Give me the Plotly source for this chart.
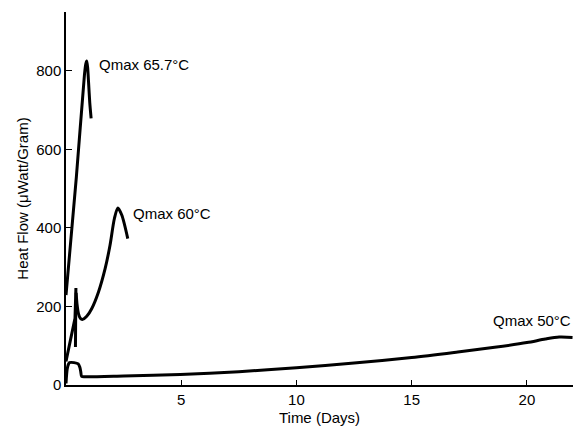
import plotly.graph_objects as go

# 65.7 C curve
t65 = [0.0, 0.45, 0.8, 0.86, 0.9, 0.94, 0.98, 1.03, 1.09]
q65 = [229, 530, 790, 818, 825, 808, 770, 720, 679]

# 60 C curve: initial rise and spike
t60a = [0.0, 0.2, 0.39, 0.43, 0.42, 0.41]
q60a = [60, 115, 170, 247, 160, 97]
# 60 C curve: main hump
t60b = [0.44, 0.48, 0.54, 0.62, 0.71, 0.9, 1.12, 1.41, 1.70, 1.91, 2.10, 2.25, 2.42, 2.68]
q60b = [235, 205, 182, 170, 167, 175, 195, 237, 297, 356, 424, 451, 433, 373]

# 50 C curve
t50 = [0.0, 0.05, 0.1, 0.15, 0.35, 0.53, 0.6, 0.64, 0.68, 0.83, 2.5, 4.96, 7.5, 10.0, 12.5,
       15.0, 17.0, 18.6, 20.0, 20.8, 21.4, 21.98]
q50 = [4, 40, 52, 57, 57, 54, 45, 34, 22, 21, 23, 27, 34, 44, 56, 70, 84, 96, 108, 117, 122, 121]

labels = ["Qmax 65.7°C", "Qmax 60°C", "Qmax 50°C"]
label_x = [1.35, 2.83, 22.0]
label_y = [817, 438, 165]

x_ticks = [5, 10, 15, 20]
y_ticks = [0, 200, 400, 600, 800]

font = dict(family="Liberation Sans, Arial, sans-serif", size=15, color="black")
line = dict(color="black", width=3)

fig = go.Figure()
fig.add_trace(go.Scatter(x=t65, y=q65, mode="lines", line=dict(**line, shape="spline", smoothing=0.5)))
fig.add_trace(go.Scatter(x=t60a, y=q60a, mode="lines", line=line))
fig.add_trace(go.Scatter(x=t60b, y=q60b, mode="lines", line=dict(**line, shape="spline", smoothing=0.8)))
fig.add_trace(go.Scatter(x=t50, y=q50, mode="lines", line=dict(**line, shape="spline", smoothing=0.8)))

for txt, x, y in zip(labels, label_x, label_y):
    fig.add_annotation(x=x, y=y, text=txt, showarrow=False,
                       xanchor="right" if x > 20 else "left", yanchor="middle",
                       font=font)

fig.update_layout(
    width=574, height=428,
    margin=dict(l=66, r=1, t=12, b=43),
    paper_bgcolor="white", plot_bgcolor="white",
    showlegend=False, font=font,
    xaxis=dict(range=[0, 22], tickvals=x_ticks, ticks="inside", ticklen=5,
               tickcolor="black", showline=True, linecolor="black", linewidth=1.5,
               showgrid=False, zeroline=False,
               title=dict(text="Time (Days)", font=font, standoff=6)),
    yaxis=dict(range=[0, 950], tickvals=y_ticks, ticks="inside", ticklen=6,
               tickcolor="black", showline=True, linecolor="black", linewidth=1.5,
               showgrid=False, zeroline=False,
               title=dict(text="Heat Flow (μWatt/Gram)", font=font, standoff=4)),
)

fig.write_html("out.html")
